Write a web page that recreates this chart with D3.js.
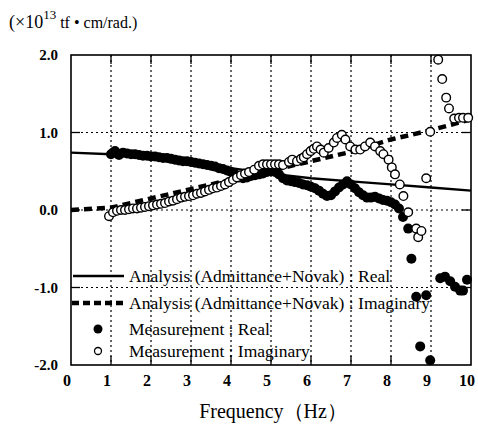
<!DOCTYPE html>
<html>
<head>
<meta charset="utf-8">
<script src="https://cdn.jsdelivr.net/npm/d3@7"></script>
<style>
  body { margin: 0; background: #fff; }
  svg { display: block; font-family: "Liberation Serif", "Times New Roman", serif; }
</style>
</head>
<body>
<script>
// chart values
let xTicks = [0, 1, 2, 3, 4, 5, 6, 7, 8, 9, 10]
let yTicks = [2, 1, 0, -1, -2]
let yTickLabels = ['2.0', '1.0', '0.0', '-1.0', '-2.0']

let analysisFreq = [0, 1, 2, 3, 4, 5, 6, 7, 8, 9, 10]
let analysisReal = [0.74, 0.72, 0.66, 0.60, 0.54, 0.47, 0.41, 0.37, 0.33, 0.29, 0.25]
let analysisImag = [0, 0.03, 0.15, 0.27, 0.39, 0.51, 0.63, 0.75, 0.91, 1.03, 1.17]

let measRealFreq = [1.0, 1.05, 1.1, 1.2, 1.3, 1.4, 1.5, 1.6, 1.7, 1.8, 1.9, 2.0, 2.1, 2.2, 2.3, 2.4, 2.5,
  2.6, 2.7, 2.8, 2.9, 3.0, 3.1, 3.2, 3.3, 3.4, 3.5, 3.6, 3.7, 3.8, 3.9, 4.0, 4.1, 4.2, 4.3, 4.4, 4.5,
  4.6, 4.7, 4.8, 4.9, 5.0, 5.1, 5.2, 5.3, 5.4, 5.5, 5.6, 5.7, 5.8, 5.9, 6.0, 6.1, 6.2, 6.3, 6.4, 6.5,
  6.6, 6.7, 6.8, 6.9, 7.0, 7.1, 7.2, 7.3, 7.4, 7.5, 7.6, 7.7, 7.8, 7.9, 8.0, 8.1, 8.2, 8.3, 8.43,
  8.51, 8.63, 8.73, 8.88, 8.98, 9.23, 9.35, 9.48, 9.6, 9.73, 9.8, 9.9]
let measRealVal = [0.72, 0.74, 0.76, 0.71, 0.74, 0.73, 0.72, 0.72, 0.71, 0.70, 0.70, 0.69, 0.69, 0.68,
  0.67, 0.67, 0.66, 0.65, 0.64, 0.63, 0.63, 0.62, 0.61, 0.60, 0.59, 0.58, 0.57, 0.56, 0.54, 0.53, 0.51,
  0.49, 0.46, 0.42, 0.41, 0.42, 0.44, 0.45, 0.46, 0.47, 0.49, 0.50, 0.49, 0.46, 0.41, 0.38, 0.37, 0.36,
  0.35, 0.33, 0.32, 0.30, 0.28, 0.25, 0.21, 0.18, 0.19, 0.24, 0.29, 0.33, 0.37, 0.33, 0.28, 0.23, 0.19,
  0.16, 0.16, 0.17, 0.15, 0.13, 0.12, 0.10, 0.07, 0.02, -0.09, -0.24, -0.63, -1.12, -1.76, -1.10,
  -1.94, -0.88, -0.86, -0.92, -0.99, -1.04, -1.04, -0.90]

let measImagFreq = [0.95, 1.05, 1.15, 1.25, 1.35, 1.45, 1.55, 1.65, 1.75, 1.85, 1.95, 2.05, 2.15, 2.25,
  2.35, 2.45, 2.55, 2.65, 2.75, 2.85, 2.95, 3.05, 3.15, 3.25, 3.35, 3.45, 3.55, 3.65, 3.75, 3.85, 3.95,
  4.05, 4.15, 4.25, 4.35, 4.45, 4.58, 4.7, 4.8, 4.9, 5.0, 5.1, 5.2, 5.3, 5.45, 5.53, 5.65, 5.75, 5.82,
  5.9, 5.99, 6.07, 6.15, 6.24, 6.32, 6.44, 6.57, 6.65, 6.77, 6.86, 6.98, 7.11, 7.23, 7.35, 7.48, 7.6,
  7.73, 7.81, 7.94, 8.02, 8.1, 8.22, 8.31, 8.43, 8.63, 8.68, 8.76, 8.88, 8.98, 9.18, 9.28, 9.38, 9.45,
  9.58, 9.7, 9.8, 9.93]
let measImagVal = [-0.08, -0.03, -0.01, 0.0, 0.0, 0.01, 0.02, 0.02, 0.03, 0.04, 0.05, 0.06, 0.07, 0.08,
  0.09, 0.11, 0.12, 0.14, 0.16, 0.17, 0.18, 0.19, 0.21, 0.22, 0.24, 0.26, 0.28, 0.29, 0.31, 0.33, 0.36,
  0.39, 0.42, 0.45, 0.47, 0.49, 0.52, 0.57, 0.59, 0.59, 0.59, 0.59, 0.59, 0.58, 0.62, 0.65, 0.63, 0.66,
  0.68, 0.72, 0.76, 0.79, 0.82, 0.78, 0.74, 0.80, 0.87, 0.93, 0.97, 0.91, 0.82, 0.78, 0.78, 0.82, 0.87,
  0.82, 0.76, 0.72, 0.65, 0.55, 0.46, 0.33, 0.18, -0.03, -0.24, -0.35, -0.27, 0.41, 1.01, 1.94, 1.69,
  1.45, 1.31, 1.18, 1.19, 1.19, 1.19]

let legendLabels = [
  'Analysis (Admittance+Novak) : Real',
  'Analysis (Admittance+Novak) : Imaginary',
  'Measurement : Real',
  'Measurement : Imaginary'
]

let width = 478, height = 433
let x = d3.scaleLinear().domain([0, 10]).range([71, 471])
let y = d3.scaleLinear().domain([-2, 2]).range([365, 55])

let svg = d3.select('body').append('svg')
  .attr('width', width)
  .attr('height', height)

svg.append('rect').attr('width', width).attr('height', height).attr('fill', '#fff')

// dotted grid
svg.append('g').selectAll('line')
  .data(xTicks.filter(d => d > 0 && d < 10))
  .enter().append('line')
  .attr('x1', d => x(d)).attr('x2', d => x(d))
  .attr('y1', y(2)).attr('y2', y(-2))
  .attr('stroke', '#000').attr('stroke-width', 1.2).attr('stroke-dasharray', '2,3')

svg.append('g').selectAll('line')
  .data(yTicks.filter(d => d > -2 && d < 2))
  .enter().append('line')
  .attr('x1', x(0)).attr('x2', x(10))
  .attr('y1', d => y(d)).attr('y2', d => y(d))
  .attr('stroke', '#000').attr('stroke-width', 1.2).attr('stroke-dasharray', '2,3')

// inward ticks on all four sides
let tickLen = 9
let ticks = svg.append('g').attr('stroke', '#000').attr('stroke-width', 1.3)
xTicks.filter(d => d > 0 && d < 10).forEach(d => {
  ticks.append('line').attr('x1', x(d)).attr('x2', x(d)).attr('y1', y(-2)).attr('y2', y(-2) - tickLen)
  ticks.append('line').attr('x1', x(d)).attr('x2', x(d)).attr('y1', y(2)).attr('y2', y(2) + tickLen)
})
yTicks.filter(d => d > -2 && d < 2).forEach(d => {
  ticks.append('line').attr('x1', x(0)).attr('x2', x(0) + tickLen).attr('y1', y(d)).attr('y2', y(d))
  ticks.append('line').attr('x1', x(10)).attr('x2', x(10) - tickLen).attr('y1', y(d)).attr('y2', y(d))
})

// frame
svg.append('rect')
  .attr('x', x(0)).attr('y', y(2))
  .attr('width', x(10) - x(0)).attr('height', y(-2) - y(2))
  .attr('fill', 'none').attr('stroke', '#000').attr('stroke-width', 1.6)

// tick labels
svg.append('g').selectAll('text')
  .data(xTicks)
  .enter().append('text')
  .attr('x', d => x(d) - 4)
  .attr('y', 386)
  .attr('text-anchor', 'middle')
  .attr('font-size', 16)
  .attr('font-weight', 'bold')
  .text(d => d)

svg.append('g').selectAll('text')
  .data(yTicks)
  .enter().append('text')
  .attr('x', 58)
  .attr('y', d => y(d) + 5)
  .attr('text-anchor', 'end')
  .attr('font-size', 15)
  .attr('font-weight', 'bold')
  .text((d, i) => yTickLabels[i])

// unit label
let unit = svg.append('text').attr('x', 9).attr('y', 28).attr('font-size', 18)
unit.append('tspan').text('(×10')
unit.append('tspan').attr('font-size', 13).attr('dy', -9).text('13')
unit.append('tspan').attr('font-size', 16).attr('dy', 9).attr('dx', 4).text('tf • cm/rad.)')

// x title
svg.append('text')
  .attr('x', 273).attr('y', 418)
  .attr('text-anchor', 'middle')
  .attr('font-size', 20)
  .text('Frequency（Hz）')

// analysis lines
let line = d3.line().x(d => x(d[0])).y(d => y(d[1]))

svg.append('path')
  .datum(analysisFreq.map((f, i) => [f, analysisReal[i]]))
  .attr('d', line)
  .attr('fill', 'none').attr('stroke', '#000').attr('stroke-width', 2.4)

svg.append('path')
  .datum(analysisFreq.map((f, i) => [f, analysisImag[i]]))
  .attr('d', line)
  .attr('fill', 'none').attr('stroke', '#000').attr('stroke-width', 4.5)
  .attr('stroke-dasharray', '8,5')

// measurements
svg.append('g').selectAll('circle')
  .data(measRealFreq.map((f, i) => [f, measRealVal[i]]))
  .enter().append('circle')
  .attr('cx', d => x(d[0])).attr('cy', d => y(d[1]))
  .attr('r', 5).attr('fill', '#000')

svg.append('g').selectAll('circle')
  .data(measImagFreq.map((f, i) => [f, measImagVal[i]]))
  .enter().append('circle')
  .attr('cx', d => x(d[0])).attr('cy', d => y(d[1]))
  .attr('r', 4.3).attr('fill', '#fff').attr('stroke', '#000').attr('stroke-width', 1.4)

// legend
let legendY = [276, 303, 329, 351]
let legend = svg.append('g')
legend.append('line').attr('x1', 73).attr('x2', 124).attr('y1', legendY[0]).attr('y2', legendY[0])
  .attr('stroke', '#000').attr('stroke-width', 2.6)
legend.append('line').attr('x1', 72).attr('x2', 124).attr('y1', legendY[1]).attr('y2', legendY[1])
  .attr('stroke', '#000').attr('stroke-width', 4.5).attr('stroke-dasharray', '7,4')
legend.append('circle').attr('cx', 98).attr('cy', legendY[2]).attr('r', 4.5).attr('fill', '#000')
legend.append('circle').attr('cx', 98).attr('cy', legendY[3]).attr('r', 3.5)
  .attr('fill', '#fff').attr('stroke', '#000').attr('stroke-width', 1.3)

legend.selectAll('text')
  .data(legendLabels)
  .enter().append('text')
  .attr('x', 129)
  .attr('y', (d, i) => legendY[i] + 6)
  .attr('font-size', 17.5)
  .text(d => d)
</script>
</body>
</html>
